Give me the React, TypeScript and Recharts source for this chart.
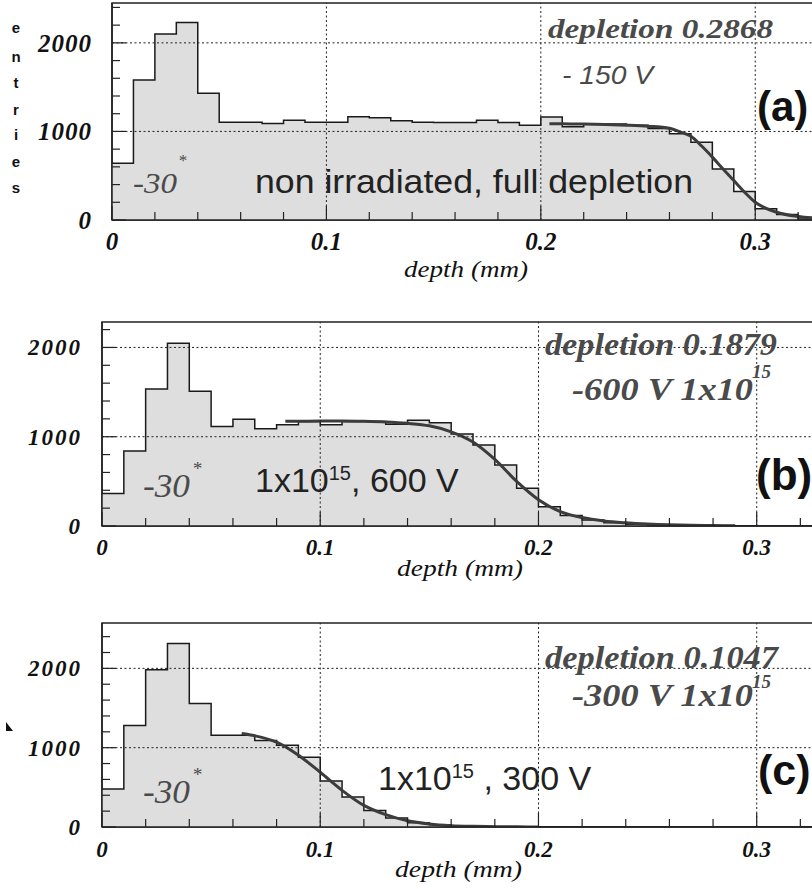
import { ComposedChart, Area, Line, XAxis, YAxis, ReferenceLine, ReferenceArea } from 'recharts';

// left edges of the 0.01 mm depth bins (last entry closes the final bin)
const binEdges = [
  0, 0.01, 0.02, 0.03, 0.04, 0.05, 0.06, 0.07, 0.08, 0.09, 0.1, 0.11, 0.12, 0.13, 0.14, 0.15, 0.16,
  0.17, 0.18, 0.19, 0.2, 0.21, 0.22, 0.23, 0.24, 0.25, 0.26, 0.27, 0.28, 0.29, 0.3, 0.31, 0.32, 0.33, 0.34,
];

// (a) non irradiated, -150 V
const countsA = [
  640, 1580, 2100, 2230, 1430, 1105, 1105, 1090, 1125, 1105, 1105, 1165, 1155, 1120, 1105, 1100, 1100,
  1127, 1100, 1071, 1162, 1052, 1085, 1085, 1070, 1034, 975, 878, 575, 323, 128, 62, 12, 5,
];
const fitDepthA = [0.204, 0.21, 0.22, 0.23, 0.24, 0.25, 0.26, 0.265, 0.27, 0.275, 0.28, 0.285, 0.29, 0.295, 0.3, 0.31, 0.32, 0.33, 0.34];
const fitA = [1088, 1086, 1083, 1078, 1070, 1058, 1035, 995, 945, 835, 710, 575, 445, 315, 200, 88, 40, 20, 10];

// (b) 1x10^15, -600 V
const countsB = [
  364, 840, 1535, 2048, 1509, 1115, 1197, 1089, 1134, 1171, 1134, 1171, 1171, 1140, 1185, 1157, 1030,
  907, 683, 422, 216, 118, 67, 37, 19, 11, 8, 6, 5, 3, 0, 0, 0, 0,
];
const fitDepthB = [0.084, 0.09, 0.1, 0.11, 0.12, 0.13, 0.14, 0.15, 0.16, 0.17, 0.18, 0.19, 0.2, 0.21, 0.22, 0.23, 0.24, 0.25, 0.26, 0.27, 0.28, 0.29];
const fitB = [1172, 1174, 1175, 1175, 1172, 1165, 1150, 1122, 1055, 940, 745, 500, 295, 162, 95, 57, 36, 22, 13, 8, 5, 3];

// (c) 1x10^15, -300 V
const countsC = [
  480, 1280, 1983, 2312, 1558, 1158, 1158, 1090, 1032, 880, 580, 378, 208, 113, 55, 28, 12,
  7, 4, 3, 2, 0, 0, 0, 0, 0, 0, 0, 0, 0, 0, 0, 0, 0,
];
const fitDepthC = [0.064, 0.07, 0.08, 0.09, 0.1, 0.11, 0.12, 0.13, 0.14, 0.15, 0.16, 0.17, 0.18, 0.19, 0.2];
const fitC = [1178, 1150, 1070, 905, 690, 462, 272, 155, 78, 38, 17, 8, 4, 2, 1];

const xTicks = [0, 0.02, 0.04, 0.06, 0.08, 0.1, 0.12, 0.14, 0.16, 0.18, 0.2, 0.22, 0.24, 0.26, 0.28, 0.3, 0.32, 0.34];
const yTicksA = [0, 200, 400, 600, 800, 1000, 1200, 1400, 1600, 1800, 2000, 2200, 2400];
const yTicksB = [0, 200, 400, 600, 800, 1000, 1200, 1400, 1600, 1800, 2000, 2200];
const yTicksC = [0, 200, 400, 600, 800, 1000, 1200, 1400, 1600, 1800, 2000, 2200, 2400];
const gridX = [0.1, 0.2, 0.3];
const gridY = [1000, 2000];

const SERIF = '"Liberation Serif", "Times New Roman", Times, serif';
const SANS = '"Liberation Sans", Arial, sans-serif';

const toHist = (counts: number[]) =>
  binEdges.map((x, i) => ({ x, n: counts[Math.min(i, counts.length - 1)] }));
const toCurve = (xs: number[], ys: number[]) => xs.map((x, i) => ({ x, n: ys[i] }));

const isMajorX = (v: number) => Math.abs(v * 10 - Math.round(v * 10)) < 1e-6;

function makeXTick(fontSize: number, dy: number) {
  return (props: any) => {
    const { x, y, payload } = props;
    const v = payload.value as number;
    const major = isMajorX(v);
    return (
      <g>
        <line x1={x} x2={x} y1={y} y2={y - (major ? 14 : 8)} stroke="#222" strokeWidth={1.2} />
        {major && (
          <text x={x} y={y + dy} textAnchor="middle" fontFamily={SERIF} fontStyle="italic" fontWeight="bold" fontSize={fontSize} fill="#111">
            {v === 0 ? '0' : String(v)}
          </text>
        )}
      </g>
    );
  };
}

function makeYTick(fontSize: number, dy: number, spacing: number) {
  return (props: any) => {
    const { x, y, payload } = props;
    const v = payload.value as number;
    const major = v % 1000 === 0;
    return (
      <g>
        <line x1={x} x2={x + (major ? 14 : 8)} y1={y} y2={y} stroke="#222" strokeWidth={1.2} />
        {major && (
          <text x={x - 20} y={y + dy} textAnchor="end" fontFamily={SERIF} fontStyle="italic" fontWeight="bold" fontSize={fontSize} letterSpacing={spacing} fill="#111">
            {v}
          </text>
        )}
      </g>
    );
  };
}

type PanelProps = {
  top: number;
  width: number;
  height: number;
  plotH: number;
  yWidth: number;
  yMax: number;
  yTicks: number[];
  counts: number[];
  fitX: number[];
  fitY: number[];
  tickFont: number;
  xDy: number;
  yDy: number;
  ySpacing: number;
};

function Panel(p: PanelProps) {
  const hist = toHist(p.counts);
  const fit = toCurve(p.fitX, p.fitY);
  const mTop = 4;
  return (
    <div style={{ position: 'absolute', left: 0, top: p.top }}>
      <ComposedChart width={p.width} height={p.height} margin={{ top: mTop, right: 0, bottom: 0, left: 0 }}>
        <XAxis
          dataKey="x"
          type="number"
          domain={[0, 0.34]}
          ticks={xTicks}
          interval={0}
          tickSize={0}
          tickMargin={0}
          tickLine={false}
          allowDataOverflow
          height={p.height - mTop - p.plotH}
          axisLine={{ stroke: '#222', strokeWidth: 1.5 }}
          tick={makeXTick(p.tickFont, p.xDy)}
        />
        <YAxis
          type="number"
          domain={[0, p.yMax]}
          ticks={p.yTicks}
          interval={0}
          tickSize={0}
          tickMargin={0}
          tickLine={false}
          allowDataOverflow
          width={p.yWidth}
          axisLine={{ stroke: '#222', strokeWidth: 1.5 }}
          tick={makeYTick(p.tickFont, p.yDy, p.ySpacing)}
        />
        <ReferenceArea x1={0} x2={0.34} y1={0} y2={p.yMax} fill="#ffffff" fillOpacity={0} stroke="#222" strokeWidth={1.5} />
        <Area
          data={hist}
          dataKey="n"
          type="stepAfter"
          stroke="#1a1a1a"
          strokeWidth={1.5}
          fill="#dedede"
          fillOpacity={1}
          isAnimationActive={false}
        />
        <Line data={fit} dataKey="n" type="monotone" stroke="#3c3c3c" strokeWidth={3} dot={false} isAnimationActive={false} />
        {gridX.map((v) => (
          <ReferenceLine key={'gx' + v} x={v} stroke="#222" strokeWidth={1} strokeDasharray="2 2.5" />
        ))}
        {gridY.map((v) => (
          <ReferenceLine key={'gy' + v} y={v} stroke="#222" strokeWidth={1} strokeDasharray="2 2.5" />
        ))}
      </ComposedChart>
    </div>
  );
}

const entries = ['e', 'n', 't', 'r', 'i', 'e', 's'];
const entriesY = [33, 62, 88, 115, 140, 167, 193];

function Overlay() {
  const gray = '#4a4a4a';
  const dark = '#222';
  const serifIt = { fontFamily: SERIF, fontStyle: 'italic' as const };
  return (
    <svg width={812} height={889} style={{ position: 'absolute', left: 0, top: 0, pointerEvents: 'none' }}>
      {entries.map((c, i) => (
        <text key={i} x={16} y={entriesY[i]} textAnchor="middle" fontFamily={SANS} fontWeight="bold" fontSize={15} fill="#111">
          {c}
        </text>
      ))}

      {/* (a) */}
      <text x={548} y={38} {...serifIt} fontWeight="bold" fontSize={27} fill={gray} textLength={225} lengthAdjust="spacingAndGlyphs">
        depletion 0.2868
      </text>
      <text x={562} y={84} fontFamily={SANS} fontStyle="italic" fontSize={25} fill={gray} textLength={91} lengthAdjust="spacingAndGlyphs">
        - 150 V
      </text>
      <text x={757} y={121} fontFamily={SANS} fontWeight="bold" fontSize={42} fill="#111">
        (a)
      </text>
      <text x={255} y={193} fontFamily={SANS} fontSize={34} fill={dark} textLength={438} lengthAdjust="spacingAndGlyphs">
        non irradiated, full depletion
      </text>
      <text x={133} y={193} {...serifIt} fontSize={30} fill={gray} textLength={44} lengthAdjust="spacingAndGlyphs">
        -30
      </text>
      <text x={178} y={166} {...serifIt} fontSize={17} fill={gray}>
        *
      </text>
      <text x={404} y={277} {...serifIt} fontSize={24} fill="#111" textLength={124} lengthAdjust="spacingAndGlyphs">
        depth (mm)
      </text>

      {/* (b) */}
      <text x={545} y={355} {...serifIt} fontWeight="bold" fontSize={31} fill={gray} textLength={232} lengthAdjust="spacingAndGlyphs">
        depletion 0.1879
      </text>
      <text x={572} y={400} {...serifIt} fontWeight="bold" fontSize={31} fill={gray} textLength={181} lengthAdjust="spacingAndGlyphs">
        -600 V  1x10
      </text>
      <text x={752} y={378} {...serifIt} fontWeight="bold" fontSize={19} fill={gray}>
        15
      </text>
      <text x={756} y={490} fontFamily={SANS} fontWeight="bold" fontSize={44} fill="#111">
        (b)
      </text>
      <text x={255} y={492} fontFamily={SANS} fontSize={34} fill={dark}>
        1x10
        <tspan dy={-12} fontSize={20}>15</tspan>
        <tspan dy={12}>, 600 V</tspan>
      </text>
      <text x={143} y={497} {...serifIt} fontSize={34} fill={gray} textLength={47} lengthAdjust="spacingAndGlyphs">
        -30
      </text>
      <text x={192} y={475} {...serifIt} fontSize={19} fill={gray}>
        *
      </text>
      <text x={397} y={576} {...serifIt} fontSize={24} fill="#111" textLength={126} lengthAdjust="spacingAndGlyphs">
        depth (mm)
      </text>

      {/* (c) */}
      <text x={545} y={668} {...serifIt} fontWeight="bold" fontSize={31} fill={gray} textLength={233} lengthAdjust="spacingAndGlyphs">
        depletion 0.1047
      </text>
      <text x={572} y={706} {...serifIt} fontWeight="bold" fontSize={31} fill={gray} textLength={181} lengthAdjust="spacingAndGlyphs">
        -300 V  1x10
      </text>
      <text x={752} y={688} {...serifIt} fontWeight="bold" fontSize={19} fill={gray}>
        15
      </text>
      <text x={758} y={785} fontFamily={SANS} fontWeight="bold" fontSize={43} fill="#111">
        (c)
      </text>
      <text x={378} y={790} fontFamily={SANS} fontSize={34} fill={dark}>
        1x10
        <tspan dy={-12} fontSize={20}>15</tspan>
        <tspan dy={12}> , 300 V</tspan>
      </text>
      <text x={143} y={803} {...serifIt} fontSize={34} fill={gray} textLength={47} lengthAdjust="spacingAndGlyphs">
        -30
      </text>
      <text x={192} y={781} {...serifIt} fontSize={19} fill={gray}>
        *
      </text>
      <text x={395} y={877} {...serifIt} fontSize={24} fill="#111" textLength={127} lengthAdjust="spacingAndGlyphs">
        depth (mm)
      </text>
      <polygon points="6,722 13,731 6,731" fill="#111" />
    </svg>
  );
}

export default function App() {
  return (
    <div style={{ position: 'fixed', left: 0, top: 0, width: 812, height: 889, overflow: 'hidden', background: '#fff' }}>
      <Panel top={-1} width={841} height={291} plotH={217} yWidth={112} yMax={2450} yTicks={yTicksA} counts={countsA} fitX={fitDepthA} fitY={fitA} tickFont={25} xDy={30} yDy={9} ySpacing={1} />
      <Panel top={318} width={844} height={278} plotH={204} yWidth={102} yMax={2285} yTicks={yTicksB} counts={countsB} fitX={fitDepthB} fitY={fitB} tickFont={23} xDy={29} yDy={8} ySpacing={2} />
      <Panel top={619} width={844} height={270} plotH={204} yWidth={102} yMax={2572} yTicks={yTicksC} counts={countsC} fitX={fitDepthC} fitY={fitC} tickFont={23} xDy={30} yDy={8} ySpacing={2} />
      <Overlay />
    </div>
  );
}
